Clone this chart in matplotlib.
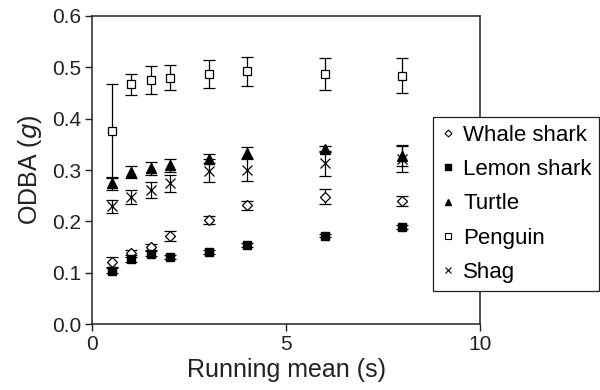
import matplotlib
matplotlib.use("Agg")
import matplotlib.pyplot as plt
from matplotlib.lines import Line2D

plt.rcParams['font.family'] = ['Liberation Sans', 'DejaVu Sans']

# === Data ===
x = [0.5, 1, 1.5, 2, 3, 4, 6, 8]

whale = [0.121, 0.139, 0.150, 0.171, 0.202, 0.231, 0.248, 0.240]
whale_err = [0.009, 0.005, 0.006, 0.010, 0.008, 0.008, 0.015, 0.010]

lemon = [0.104, 0.126, 0.137, 0.131, 0.141, 0.154, 0.172, 0.189]
lemon_err = [0.005, 0.005, 0.005, 0.004, 0.004, 0.003, 0.003, 0.004]

turtle = [0.274, 0.296, 0.303, 0.309, 0.322, 0.333, 0.341, 0.327]
turtle_err = [0.012, 0.011, 0.012, 0.012, 0.009, 0.011, 0.006, 0.020]

penguin = [0.376, 0.467, 0.475, 0.480, 0.487, 0.492, 0.487, 0.484]
penguin_err = [0.092, 0.020, 0.027, 0.025, 0.028, 0.028, 0.032, 0.034]

shag = [0.229, 0.247, 0.261, 0.274, 0.299, 0.301, 0.313, 0.322]
shag_err = [0.013, 0.014, 0.016, 0.016, 0.022, 0.023, 0.025, 0.026]

series = [
    ("Whale shark", whale, whale_err, dict(marker='D', ms=5.2, mfc='white', mec='black', mew=0.9)),
    ("Lemon shark", lemon, lemon_err, dict(marker='s', ms=5.5, mfc='black', mec='black')),
    ("Turtle", turtle, turtle_err, dict(marker='^', ms=6.5, mfc='black', mec='black')),
    ("Penguin", penguin, penguin_err, dict(marker='s', ms=5.8, mfc='white', mec='black', mew=0.9)),
    ("Shag", shag, shag_err, dict(marker='x', ms=7, mfc='black', mec='black', mew=0.9)),
]

fig = plt.figure(figsize=(6, 3.9), dpi=100)
ax = fig.add_axes([0.154, 0.169, 0.646, 0.790])

for name, vals, err, style in series:
    ax.errorbar(x, vals, yerr=err, fmt='none', ecolor='black', elinewidth=0.9,
                capsize=4, capthick=0.9)
    ax.plot(x, vals, linestyle='none', **style)

ax.set_xlim(0, 10)
ax.set_ylim(0, 0.6)
ax.set_xticks([0, 5, 10])
ax.set_yticks([0.0, 0.1, 0.2, 0.3, 0.4, 0.5, 0.6])
ax.set_yticklabels([f"{v:.1f}" for v in [0.0, 0.1, 0.2, 0.3, 0.4, 0.5, 0.6]])
ax.tick_params(direction='out', length=5, width=1, labelsize=15, colors='#222222', pad=3)
for s in ax.spines.values():
    s.set_linewidth(1.1)
    s.set_color('#222222')

ax.set_xlabel("Running mean (s)", fontsize=18, color='#222222', labelpad=3)
ax.set_ylabel("ODBA ($\\it{g}$)", fontsize=18, color='#222222', labelpad=6)

# legend with small markers, overlapping right spine
handles = [
    Line2D([], [], linestyle='none', marker='D', ms=3.5, mfc='white', mec='black', mew=0.8),
    Line2D([], [], linestyle='none', marker='s', ms=4, mfc='black', mec='black'),
    Line2D([], [], linestyle='none', marker='^', ms=5, mfc='black', mec='black'),
    Line2D([], [], linestyle='none', marker='s', ms=4, mfc='white', mec='black', mew=0.8),
    Line2D([], [], linestyle='none', marker='x', ms=5, mfc='black', mec='black', mew=0.8),
]
labels = [s[0] for s in series]
leg = fig.legend(handles, labels, loc='upper left', bbox_to_anchor=(0.722, 0.70),
                 frameon=True, fancybox=False, fontsize=16, handlelength=0.6,
                 handletextpad=0.4, borderpad=0.35, labelspacing=0.6,
                 borderaxespad=0, edgecolor='#222222')
leg.get_frame().set_linewidth(0.9)
leg.get_frame().set_alpha(1)

fig.savefig("out.png", dpi=100)
